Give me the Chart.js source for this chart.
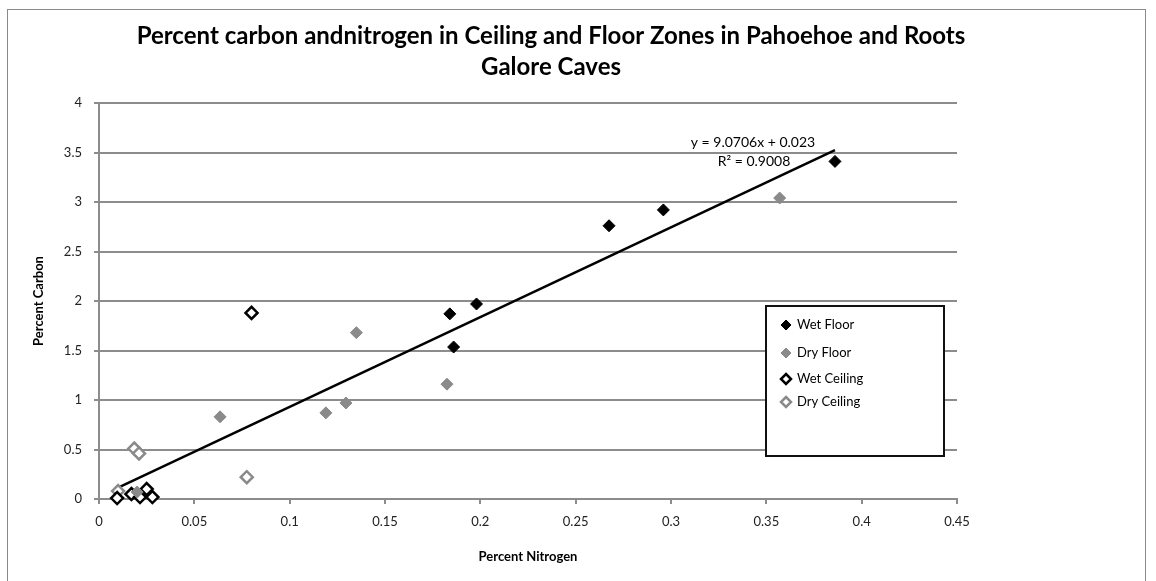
<!DOCTYPE html>
<html>
<head>
<meta charset="utf-8">
<script src="https://cdn.jsdelivr.net/npm/chart.js@4"></script>
<style>
    body { margin: 0; background: #fff; }
    #wrap { position: relative; width: 1156px; height: 581px; }
    #frame { position: absolute; left: 7px; top: 9px; width: 1139px; height: 600px; border: 1px solid #8a8a8a; box-sizing: border-box; pointer-events: none; }
</style>
</head>
<body>
<div id="wrap">
    <canvas id="chart" width="1156" height="581"></canvas>
    <div id="frame"></div>
</div>
<script>
const titleLines = ['Percent carbon andnitrogen in Ceiling and Floor Zones in Pahoehoe and Roots', 'Galore Caves'];

const xTicks = [0, 0.05, 0.1, 0.15, 0.2, 0.25, 0.3, 0.35, 0.4, 0.45];
const yTicks = [0, 0.5, 1, 1.5, 2, 2.5, 3, 3.5, 4];

const wetFloorN = [0.386, 0.296, 0.2675, 0.198, 0.184, 0.186];
const wetFloorC = [3.41, 2.92, 2.76, 1.97, 1.87, 1.535];

const dryFloorN = [0.357, 0.1825, 0.135, 0.1295, 0.119, 0.0635, 0.020];
const dryFloorC = [3.04, 1.16, 1.68, 0.97, 0.87, 0.83, 0.07];

const wetCeilingN = [0.080, 0.0095, 0.017, 0.0215, 0.025, 0.028];
const wetCeilingC = [1.88, 0.01, 0.05, 0.02, 0.10, 0.02];

const dryCeilingN = [0.0185, 0.021, 0.0775, 0.010];
const dryCeilingC = [0.51, 0.46, 0.22, 0.08];

// linear trend shown on the chart
const trendSlope = 9.0706;
const trendIntercept = 0.023;
const trendR2 = '0.9008';
const trendRange = [0.0095, 0.386];

const fontFamily = "Lato, 'Open Sans', sans-serif";
const gridColor = '#8c8c8c';

function pts(xs, ys) {
    return xs.map((x, i) => ({ x: x, y: ys[i] }));
}

const overlay = {
    id: 'overlay',
    afterDraw(chart) {
        const ctx = chart.ctx;
        ctx.save();

        // title
        ctx.fillStyle = '#000';
        ctx.textAlign = 'center';
        ctx.textBaseline = 'middle';
        ctx.font = "bold 24px " + fontFamily;
        ctx.fillText(titleLines[0], 551, 36);
        ctx.fillText(titleLines[1], 551, 67);

        // trendline label
        ctx.font = "14px " + fontFamily;
        ctx.fillText('y = ' + trendSlope + 'x + ' + trendIntercept, 753, 142);
        ctx.fillText('R² = ' + trendR2, 754, 161);

        // legend box
        ctx.fillStyle = '#fff';
        ctx.fillRect(766, 306, 178, 150);
        ctx.strokeStyle = '#111';
        ctx.lineWidth = 2;
        ctx.strokeRect(766, 306, 178, 150);

        const rowY = [325, 353, 379, 402];
        ctx.textAlign = 'left';
        ctx.font = "13px " + fontFamily;
        chart.data.datasets.filter(d => d.type !== 'line').forEach((d, i) => {
            const y = rowY[i];
            const r = 5;
            ctx.beginPath();
            ctx.moveTo(786, y - r);
            ctx.lineTo(786 + r, y);
            ctx.lineTo(786, y + r);
            ctx.lineTo(786 - r, y);
            ctx.closePath();
            ctx.fillStyle = d.pointBackgroundColor;
            ctx.fill();
            ctx.lineWidth = d.pointBorderWidth;
            ctx.strokeStyle = d.pointBorderColor;
            ctx.stroke();
            ctx.fillStyle = '#000';
            ctx.fillText(d.label, 797, y);
        });
        ctx.restore();
    }
};

new Chart(document.getElementById('chart'), {
    type: 'scatter',
    data: {
        datasets: [
            {
                label: 'Wet Floor',
                data: pts(wetFloorN, wetFloorC),
                pointStyle: 'rectRot',
                pointRadius: 6,
                pointBackgroundColor: '#000',
                pointBorderColor: '#000',
                pointBorderWidth: 1,
                clip: false
            },
            {
                label: 'Dry Floor',
                data: pts(dryFloorN, dryFloorC),
                pointStyle: 'rectRot',
                pointRadius: 6,
                pointBackgroundColor: '#8a8a8a',
                pointBorderColor: '#8a8a8a',
                pointBorderWidth: 1,
                clip: false
            },
            {
                label: 'Wet Ceiling',
                data: pts(wetCeilingN, wetCeilingC),
                pointStyle: 'rectRot',
                pointRadius: 6,
                pointBackgroundColor: '#fff',
                pointBorderColor: '#000',
                pointBorderWidth: 2.5,
                clip: false
            },
            {
                label: 'Dry Ceiling',
                data: pts(dryCeilingN, dryCeilingC),
                pointStyle: 'rectRot',
                pointRadius: 6,
                pointBackgroundColor: '#fff',
                pointBorderColor: '#8a8a8a',
                pointBorderWidth: 2.5,
                clip: false
            },
            {
                type: 'line',
                label: 'Trend',
                data: trendRange.map(x => ({ x: x, y: trendSlope * x + trendIntercept })),
                borderColor: '#000',
                borderWidth: 2.5,
                pointRadius: 0,
                fill: false
            }
        ]
    },
    options: {
        responsive: false,
        animation: false,
        layout: {
            padding: { left: 0, right: 199, top: 103, bottom: 0 }
        },
        plugins: {
            legend: { display: false },
            title: { display: false },
            tooltip: { enabled: false }
        },
        scales: {
            x: {
                type: 'linear',
                min: 0,
                max: 0.45,
                afterBuildTicks: s => { s.ticks = xTicks.map(v => ({ value: v })); },
                afterFit: s => { s.height = 82; },
                border: { color: gridColor, width: 2 },
                grid: { drawOnChartArea: false, drawTicks: true, tickLength: 5, color: gridColor, lineWidth: 2 },
                ticks: {
                    padding: 10,
                    color: '#222',
                    font: { family: fontFamily, size: 13 },
                    callback: v => String(parseFloat(v.toFixed(2)))
                },
                title: {
                    display: true,
                    text: 'Percent Nitrogen',
                    color: '#000',
                    font: { family: fontFamily, size: 13, weight: 'bold' },
                    padding: { top: 0, bottom: 16 }
                }
            },
            y: {
                min: 0,
                max: 4,
                afterBuildTicks: s => { s.ticks = yTicks.map(v => ({ value: v })); },
                afterFit: s => { s.width = 99; },
                border: { color: gridColor, width: 2 },
                grid: { color: gridColor, lineWidth: 2, tickLength: 5 },
                ticks: {
                    padding: 12,
                    color: '#222',
                    font: { family: fontFamily, size: 13 },
                    callback: v => String(v)
                },
                title: {
                    display: true,
                    text: 'Percent Carbon',
                    color: '#000',
                    font: { family: fontFamily, size: 13, weight: 'bold' },
                    padding: { top: 31, bottom: 0 }
                }
            }
        }
    },
    plugins: [overlay]
});
</script>
</body>
</html>
